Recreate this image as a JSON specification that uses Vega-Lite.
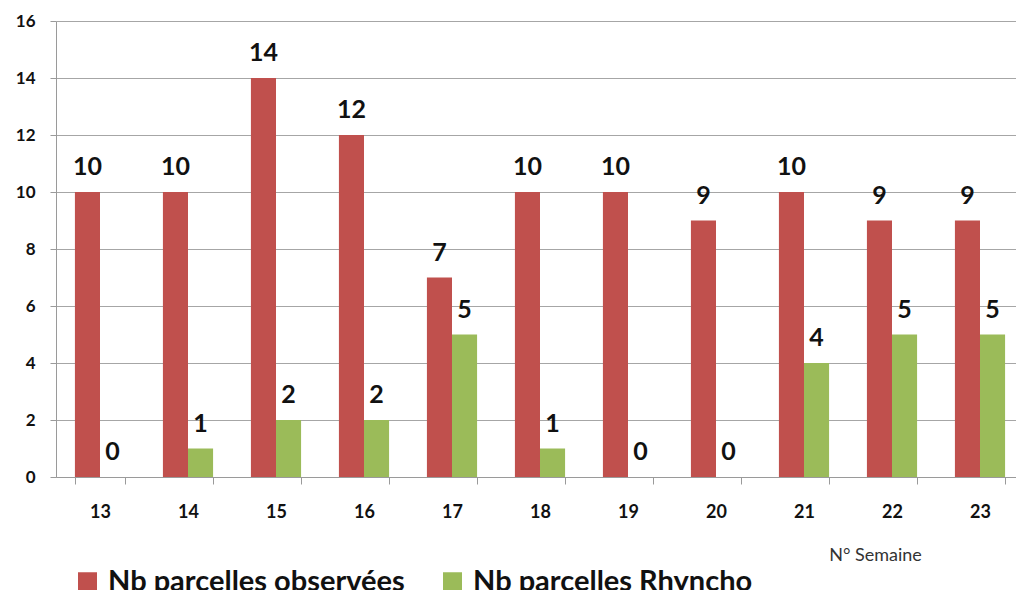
{
  "$schema": "https://vega.github.io/schema/vega-lite/v6.json",
  "width": 968,
  "height": 456,
  "autosize": {"type": "none"},
  "padding": {"left": 56, "top": 21, "right": 0, "bottom": 113},
  "background": "white",
  "data": {"values": [
    {"semaine": "13", "serie": "Nb parcelles observées", "valeur": 10},
    {"semaine": "13", "serie": "Nb parcelles Rhyncho", "valeur": 0},
    {"semaine": "14", "serie": "Nb parcelles observées", "valeur": 10},
    {"semaine": "14", "serie": "Nb parcelles Rhyncho", "valeur": 1},
    {"semaine": "15", "serie": "Nb parcelles observées", "valeur": 14},
    {"semaine": "15", "serie": "Nb parcelles Rhyncho", "valeur": 2},
    {"semaine": "16", "serie": "Nb parcelles observées", "valeur": 12},
    {"semaine": "16", "serie": "Nb parcelles Rhyncho", "valeur": 2},
    {"semaine": "17", "serie": "Nb parcelles observées", "valeur": 7},
    {"semaine": "17", "serie": "Nb parcelles Rhyncho", "valeur": 5},
    {"semaine": "18", "serie": "Nb parcelles observées", "valeur": 10},
    {"semaine": "18", "serie": "Nb parcelles Rhyncho", "valeur": 1},
    {"semaine": "19", "serie": "Nb parcelles observées", "valeur": 10},
    {"semaine": "19", "serie": "Nb parcelles Rhyncho", "valeur": 0},
    {"semaine": "20", "serie": "Nb parcelles observées", "valeur": 9},
    {"semaine": "20", "serie": "Nb parcelles Rhyncho", "valeur": 0},
    {"semaine": "21", "serie": "Nb parcelles observées", "valeur": 10},
    {"semaine": "21", "serie": "Nb parcelles Rhyncho", "valeur": 4},
    {"semaine": "22", "serie": "Nb parcelles observées", "valeur": 9},
    {"semaine": "22", "serie": "Nb parcelles Rhyncho", "valeur": 5},
    {"semaine": "23", "serie": "Nb parcelles observées", "valeur": 9},
    {"semaine": "23", "serie": "Nb parcelles Rhyncho", "valeur": 5}
  ]},
  "encoding": {
    "x": {
      "field": "semaine", "type": "ordinal",
      "scale": {"paddingInner": 0.43, "paddingOuter": 0.215},
      "axis": {
        "title": "N° Semaine",
        "titleFont": "Lato", "titleFontSize": 18, "titleFontWeight": "normal", "titleColor": "#333333",
        "titleX": 819, "titleY": 78, "titleAlign": "center", "titleBaseline": "middle",
        "labelAngle": 0, "labelFont": "Lato", "labelFontSize": 18, "labelFontWeight": "bold", "labelColor": "#111111",
        "labelPadding": 19,
        "tickBand": "extent", "tickSize": 7, "tickColor": "#9a9a9a", "domainColor": "#9a9a9a"
      }
    },
    "xOffset": {"field": "serie", "type": "nominal", "sort": ["Nb parcelles observées", "Nb parcelles Rhyncho"], "scale": {"paddingInner": 0, "paddingOuter": 0}},
    "y": {
      "field": "valeur", "type": "quantitative",
      "scale": {"domain": [0, 16], "nice": false},
      "axis": {
        "title": null, "values": [0, 2, 4, 6, 8, 10, 12, 14, 16],
        "labelFont": "Lato", "labelFontSize": 17, "labelFontWeight": "bold", "labelColor": "#111111",
        "labelPadding": 15, "tickSize": 6, "tickColor": "#9a9a9a", "domainColor": "#9a9a9a",
        "grid": true, "gridColor": "#a6a6a6"
      }
    }
  },
  "layer": [
    {
      "mark": {"type": "bar"},
      "encoding": {
        "color": {
          "field": "serie", "type": "nominal",
          "sort": ["Nb parcelles observées", "Nb parcelles Rhyncho"],
          "scale": {"domain": ["Nb parcelles observées", "Nb parcelles Rhyncho"], "range": ["#C0504D", "#9BBB59"]},
          "legend": {
            "title": null, "orient": "none", "direction": "horizontal",
            "legendX": 17, "legendY": 546,
            "symbolType": "square", "symbolSize": 361, "symbolStrokeWidth": 0,
            "labelFont": "Lato", "labelFontSize": 29, "labelFontWeight": "bold", "labelColor": "#111111",
            "labelLimit": 400, "columnPadding": 33, "labelOffset": 6
          }
        }
      }
    },
    {
      "mark": {"type": "text", "baseline": "alphabetic", "dy": -17, "font": "Lato", "fontSize": 25, "fontWeight": "bold", "color": "#111111"},
      "encoding": {"text": {"field": "valeur", "type": "quantitative"}}
    }
  ],
  "config": {"view": {"stroke": null}}
}
